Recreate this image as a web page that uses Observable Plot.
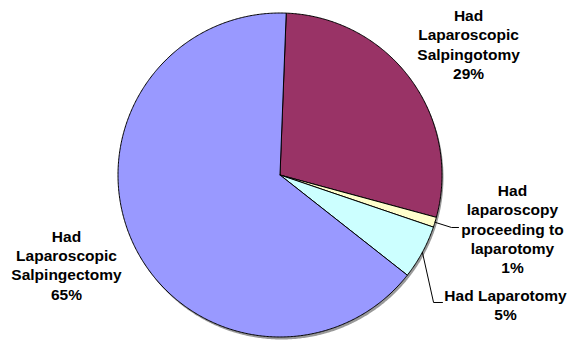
<!DOCTYPE html>
<html><head><meta charset="utf-8">
<script src="https://cdn.jsdelivr.net/npm/d3@7"></script>
<script src="https://cdn.jsdelivr.net/npm/@observablehq/plot@0.6"></script>
<style>body{margin:0;background:#fff} #chart svg{display:block}</style>
</head><body><div id="chart"></div>
<script>
// ---- data ----
const categories = ["Had Laparoscopic Salpingotomy", "Had laparoscopy proceeding to laparotomy", "Had Laparotomy", "Had Laparoscopic Salpingectomy"];
const labelTexts = ["Had\nLaparoscopic\nSalpingotomy", "Had\nlaparoscopy\nproceeding to\nlaparotomy", "Had Laparotomy", "Had\nLaparoscopic\nSalpingectomy"];
const values = [28.6, 1.0, 5.4, 65.0];
const colors = ["#993366", "#FFFFCC", "#CCFFFF", "#9999FF"];

// ---- layout (unit-circle coordinates, radius = 1) ----
const startDeg = 2.2;
const labelPos = [[1.164, 0.809], [1.435, -0.330], [1.392, -0.799], [-1.318, -0.553]];
const leaderPath = [null, [[1.059, -0.324], [1.102, -0.324]], [[0.948, -0.787], [1.003, -0.787]], null];

const rad = d => d * Math.PI / 180;
const arcs = d3.pie().sort(null).startAngle(rad(startDeg)).endAngle(rad(startDeg) + 2 * Math.PI)(values);

const slicePts = [];
arcs.forEach((a, i) => {
  const cat = categories[i];
  slicePts.push({cat, x: 0, y: 0});
  const n = Math.max(2, Math.ceil((a.endAngle - a.startAngle) / rad(0.5)));
  for (let k = 0; k <= n; k++) {
    const t = a.startAngle + (a.endAngle - a.startAngle) * k / n;
    slicePts.push({cat, x: Math.sin(t), y: Math.cos(t)});
  }
  slicePts.push({cat, x: 0, y: 0});
});

const shadowPts = d3.range(0, 721).map(k => ({x: Math.sin(rad(k / 2)), y: Math.cos(rad(k / 2))}));

const leaderPts = [];
arcs.forEach((a, i) => {
  if (!leaderPath[i]) return;
  const m = (a.startAngle + a.endAngle) / 2;
  leaderPts.push({id: i, x: Math.sin(m), y: Math.cos(m)});
  leaderPath[i].forEach(([x, y]) => leaderPts.push({id: i, x, y}));
});

const labels = arcs.map((a, i) => ({
  x: labelPos[i][0], y: labelPos[i][1],
  text: labelTexts[i] + "\n" + Math.round(values[i] / d3.sum(values) * 100) + "%"
}));

const R = 162;
const chart = Plot.plot({
  width: 579, height: 341, margin: 0,
  style: {background: "#fff"},
  x: {domain: [-279.5 / R, (579 - 279.5) / R], axis: null},
  y: {domain: [-(341 - 174.5) / R, 174.5 / R], axis: null},
  color: {domain: categories, range: colors},
  marks: [
    Plot.line(shadowPts, {x: "x", y: "y", fill: "#000", fillOpacity: 0.4, stroke: "none", dx: 1.5, dy: 2.5}),
    Plot.line(slicePts, {x: "x", y: "y", z: "cat", fill: "cat", stroke: "#000", strokeWidth: 1, strokeLinejoin: "miter"}),
    Plot.line(leaderPts, {x: "x", y: "y", z: "id", stroke: "#000", strokeWidth: 1}),
    Plot.text(labels, {x: "x", y: "y", text: "text", fontWeight: "bold", fontSize: 15.5,
      fontFamily: "'Liberation Sans', Arial, sans-serif", lineHeight: 1.25, fill: "#000"})
  ]
});
document.getElementById("chart").append(chart);
</script>
</body></html>
